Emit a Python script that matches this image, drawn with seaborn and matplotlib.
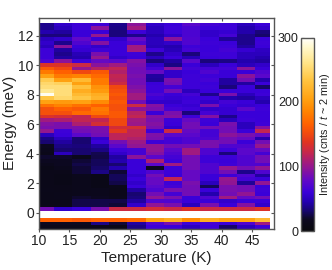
import numpy as np
import pandas as pd
import matplotlib
matplotlib.use("Agg")
import matplotlib.pyplot as plt
from matplotlib.colors import LinearSegmentedColormap
from matplotlib.patches import Rectangle
import seaborn as sns

temps = [11, 14, 17, 20, 23, 26, 29, 32, 35, 38, 41, 44, 47]
x_ticks = [10, 15, 20, 25, 30, 35, 40, 45]
y_ticks = [0, 2, 4, 6, 8, 10, 12]
cbar_ticks = [0, 100, 200, 300]

r00 = [38,55,62,62,38,95,55,60,75,65,62,50,60]
r01 = [38,50,62,95,36,105,50,62,68,60,62,45,55]
r02 = [45,42,60,60,34,62,50,62,68,55,58,44,34]
r03 = [34,34,60,100,34,38,45,55,68,55,65,38,30]
r04 = [50,55,78,60,55,80,50,95,70,60,40,38,60]
r05 = [55,38,70,92,60,70,50,55,70,62,60,38,62]
r06 = [50,95,60,55,60,105,48,45,62,60,62,42,60]
r07 = [62,42,58,62,60,105,62,48,65,60,65,58,52]
r08 = [62,38,48,88,60,62,38,55,34,62,62,50,50]
r09 = [62,42,45,100,55,60,50,60,48,60,62,50,45]
r10 = [68,95,62,80,75,92,34,42,75,34,36,45,42]
r11 = [135,135,125,95,105,88,55,36,60,50,60,50,55]
r12 = [160,150,100,115,120,85,65,95,65,65,65,95,60]
r13 = [180,165,150,160,112,85,80,55,60,70,60,60,70]
r14 = [205,180,185,170,120,88,42,55,62,62,60,95,75]
r15 = [240,205,225,180,118,85,40,88,62,65,42,85,45]
r16 = [250,245,205,180,125,85,60,85,62,60,42,42,60]
r17 = [255,255,230,195,150,90,62,65,62,62,34,60,30]
r18 = [265,255,215,200,155,95,62,85,50,60,60,60,60]
r19 = [295,255,225,215,160,105,68,60,65,38,88,50,62]
r20 = [235,250,235,220,155,105,62,58,60,60,45,42,50]
r21 = [205,200,205,190,160,85,55,55,62,55,65,60,45]
r22 = [175,185,175,165,155,125,92,60,58,88,60,58,60]
r23 = [155,165,160,180,155,95,88,65,62,55,58,75,62]
r24 = [155,155,170,175,160,115,60,88,34,65,58,60,60]
r25 = [135,130,120,150,160,120,92,92,62,92,38,60,60]
r26 = [105,110,120,120,150,105,88,62,80,62,50,62,60]
r27 = [92,88,110,130,150,102,92,60,85,60,88,50,62]
r28 = [88,88,88,88,130,130,88,55,85,85,85,50,92]
r29 = [100,62,85,88,140,118,62,125,80,65,85,60,120]
r30 = [50,60,75,85,118,118,90,75,75,65,95,88,80]
r31 = [36,50,32,55,118,112,88,65,70,68,85,80,45]
r32 = [32,42,32,60,85,102,62,65,70,88,85,60,85]
r33 = [18,36,34,42,75,98,98,85,85,88,70,70,100]
r34 = [15,32,32,36,62,65,98,75,105,70,62,75,80]
r35 = [12,50,32,26,55,65,92,70,105,70,34,75,65]
r36 = [20,20,15,25,42,95,75,65,85,62,62,70,85]
r37 = [18,18,22,28,45,60,110,62,85,62,60,70,85]
r38 = [14,18,25,28,32,60,75,105,85,70,62,70,70]
r39 = [10,15,22,30,45,60,18,62,85,70,100,85,98]
r40 = [12,12,22,36,22,60,70,62,80,70,85,38,70]
r41 = [12,10,15,10,28,55,85,60,80,60,62,70,42]
r42 = [12,10,14,10,28,60,80,120,80,60,100,65,60]
r43 = [12,10,14,10,25,55,80,62,88,50,98,40,98]
r44 = [12,12,14,10,14,60,75,65,85,28,88,85,60]
r45 = [13,12,14,15,12,42,70,88,85,60,88,85,62]
r46 = [12,13,14,15,12,32,85,65,85,45,85,98,60]
r47 = [12,13,20,18,14,34,98,88,60,70,105,80,85]
r48 = [12,12,25,25,25,42,70,70,60,60,55,60,60]
r49 = [12,12,25,25,22,55,98,88,50,88,60,92,55]
r50 = [85,55,60,88,125,125,130,125,135,125,125,125,135]
r51 = [420,420,420,420,420,420,420,420,420,420,420,420,420]
r52 = [420,420,420,420,420,420,420,420,420,420,420,420,420]
r53 = [165,165,160,165,165,170,205,215,190,215,205,205,225]
r54 = [18,18,18,36,22,42,70,88,62,65,60,70,105]
r55 = [12,12,12,12,10,36,62,60,50,62,30,50,62]

rows = [r00,r01,r02,r03,r04,r05,r06,r07,r08,r09,r10,r11,r12,r13,
        r14,r15,r16,r17,r18,r19,r20,r21,r22,r23,r24,r25,r26,r27,
        r28,r29,r30,r31,r32,r33,r34,r35,r36,r37,r38,r39,r40,r41,
        r42,r43,r44,r45,r46,r47,r48,r49,r50,r51,r52,r53,r54,r55]

DE = 0.25
E_TOP = 12.91
energies = [round(E_TOP - DE * (i + 0.5), 3) for i in range(len(rows))]
frame = pd.DataFrame(rows, index=energies, columns=temps)

stops = [(0.00, "#08080c"), (0.06, "#0c0820"), (0.10, "#160668"), (0.15, "#2400b0"),
         (0.20, "#3a00d8"), (0.26, "#6008c8"), (0.30, "#7e10a8"), (0.35, "#a01a80"),
         (0.41, "#c82848"), (0.46, "#e03420"), (0.50, "#f04810"), (0.55, "#ff6000"),
         (0.62, "#ff8400"), (0.68, "#ffa010"), (0.78, "#ffc440"), (0.87, "#ffe488"),
         (0.95, "#fff8cc"), (1.00, "#ffffff")]
cmap = LinearSegmentedColormap.from_list("inferno_like", stops, N=512)

sns.set_theme(style="ticks")
plt.rcParams["font.family"] = ["Liberation Sans", "DejaVu Sans"]
plt.rcParams["mathtext.fontset"] = "custom"
plt.rcParams["mathtext.it"] = "Liberation Sans:italic"
plt.rcParams["mathtext.rm"] = "Liberation Sans"

W, H = 332, 270
GREY = "#555555"
fig = plt.figure(figsize=(W / 100, H / 100), dpi=100, facecolor="white")
ax = fig.add_axes([39 / W, 1 - 228.5 / H, (274 - 39) / W, (228.5 - 18) / H])
cax = fig.add_axes([301 / W, 1 - 231 / H, 12.5 / W, (231 - 37.5) / H])

sns.heatmap(frame, ax=ax, cmap=cmap, vmin=0, vmax=300, cbar_ax=cax,
            xticklabels=False, yticklabels=False, linewidths=0)


def t2x(t):
    return (np.asarray(t, dtype=float) - (temps[0] - 1.5)) / 3.0


def e2y(e):
    return (E_TOP - np.asarray(e, dtype=float)) / DE


ax.set_xlim(t2x(10), t2x(48.6))
ax.set_ylim(e2y(-1.06), e2y(13.22))
mesh = ax.collections[0]
mesh.set_clip_path(Rectangle((t2x(10), e2y(12.91)), t2x(48) - t2x(10),
                             e2y(-1.06) - e2y(12.91), transform=ax.transData))

ax.set_xticks(t2x(x_ticks))
ax.set_xticklabels([str(v) for v in x_ticks], rotation=0, fontsize=10, color="#222222")
ax.set_yticks(e2y(y_ticks))
ax.set_yticklabels([str(v) for v in y_ticks], rotation=0, fontsize=10, color="#222222")
ax.tick_params(axis="both", which="major", color=GREY, width=0.8, length=2.2, pad=1.5,
               bottom=True, left=True)
top = ax.secondary_xaxis("top")
top.set_xticks(t2x(x_ticks))
top.set_xticklabels([])
top.tick_params(direction="in", length=2.2, width=0.8, color=GREY)
top.spines["top"].set_visible(False)
right = ax.secondary_yaxis("right")
right.set_yticks(e2y(y_ticks))
right.set_yticklabels([])
right.tick_params(direction="in", length=2.2, width=0.8, color=GREY)
right.spines["right"].set_visible(False)

for s in ax.spines.values():
    s.set_visible(True)
    s.set_color(GREY)
    s.set_linewidth(1.0)

ax.set_xlabel("Temperature (K)", fontsize=11, color="#222222", labelpad=2.5)
ax.set_ylabel("Energy (meV)", fontsize=11, color="#222222", labelpad=1)

cbar = mesh.colorbar
cbar.set_ticks(cbar_ticks)
cbar.outline.set_visible(True)
cbar.outline.set_edgecolor(GREY)
cbar.outline.set_linewidth(1.0)
cax.yaxis.set_ticks_position("left")
cax.tick_params(axis="y", which="both", direction="in", left=True, right=True, length=2.5,
                width=0.8, color="#222222", labelleft=True, labelright=False,
                labelsize=9, labelcolor="#222222", pad=1.5)
cax.minorticks_off()
cax.yaxis.set_label_position("right")
cax.set_ylabel(r"Intensity (cnts / $\mathit{t}$ ~ 2 min)", fontsize=7.8, color="#222222", labelpad=3)

fig.savefig("out.png", dpi=100, facecolor="white")
